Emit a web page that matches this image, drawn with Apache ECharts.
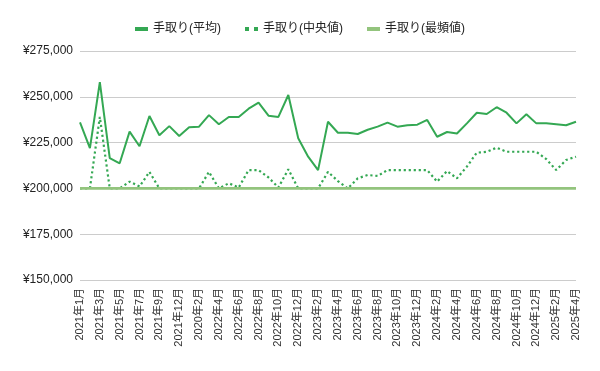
<!DOCTYPE html>
<html><head><meta charset="utf-8">
<script src="https://cdn.jsdelivr.net/npm/echarts@6/dist/echarts.min.js"></script>
<style>html,body{margin:0;padding:0;background:#fff}#c{width:600px;height:371px}</style>
</head><body><div id="c"></div>
<script>
const categories = ["2021年1月","2021年2月","2021年3月","2021年4月","2021年5月","2021年6月","2021年7月","2021年8月","2021年9月","2021年10月","2021年12月","2022年1月","2020年2月","2022年3月","2022年4月","2022年5月","2022年6月","2022年7月","2022年8月","2022年9月","2022年10月","2022年11月","2022年12月","2023年1月","2023年2月","2023年3月","2023年4月","2023年5月","2023年6月","2023年7月","2023年8月","2023年9月","2023年10月","2023年11月","2023年12月","2024年1月","2024年2月","2024年3月","2024年4月","2024年5月","2024年6月","2024年7月","2024年8月","2024年9月","2024年10月","2024年11月","2024年12月","2025年1月","2025年2月","2025年3月","2025年4月"];
const avgValues = [236000,222000,258000,216500,213700,231000,223000,239500,229000,234000,228600,233400,233700,240000,235000,239000,239000,243500,246800,239700,239000,251000,227400,217300,210000,236400,230400,230400,229700,232000,233700,235900,233700,234500,234800,237400,228200,230800,230000,235500,241300,240600,244300,241300,235500,240500,235500,235500,235000,234500,236400];
const medianValues = [200000,200000,239000,200000,200000,203700,201000,209000,200000,200000,200000,200000,200000,209000,200000,202800,200500,210000,210000,206000,200500,210400,200000,200000,200000,209000,204000,200000,205500,207300,206800,210000,210000,210000,210000,210000,203700,209500,205500,211900,219500,220000,222200,220000,220000,220000,220000,216000,210000,215500,217300];
const modeValues = categories.map(() => 200000);
const yTicks = { min: 150000, max: 275000, interval: 25000 };
const seriesNames = ["手取り(平均)","手取り(中央値)","手取り(最頻値)"];

const chart = echarts.init(document.getElementById('c'), null, {renderer:'canvas'});
const font = '"Liberation Sans", Arial, "Noto Sans CJK JP", sans-serif';
chart.setOption({
  animation:false,
  textStyle:{fontFamily:font},
  legend:{
    top:18, left:'center', itemWidth:13, itemHeight:4, itemGap:24,
    textStyle:{fontSize:12,color:'#222',fontFamily:font},
    data:[
      {name:seriesNames[0],icon:'rect'},
      {name:seriesNames[1],icon:'path://M0,0h4v4h-4zM9,0h4v4h-4z'},
      {name:seriesNames[2],icon:'rect'}
    ]
  },
  grid:{left:80,right:24,top:51,bottom:91,containLabel:false},
  xAxis:{
    type:'category', data:categories, boundaryGap:false,
    axisLine:{show:false}, axisTick:{show:false},
    axisLabel:{rotate:90, interval:1, fontSize:11, color:'#333', margin:8, fontFamily:font}
  },
  yAxis:{
    type:'value', min:yTicks.min, max:yTicks.max, interval:yTicks.interval,
    axisLine:{show:false}, axisTick:{show:false},
    splitLine:{lineStyle:{color:'#cccccc',width:1}},
    axisLabel:{fontSize:12,color:'#222',margin:7,fontFamily:font,
      formatter:v=>'¥'+v.toLocaleString('en-US')}
  },
  series:[
    {name:seriesNames[0],type:'line',data:avgValues,symbol:'none',
     lineStyle:{color:'#34a853',width:2},itemStyle:{color:'#34a853'}},
    {name:seriesNames[1],type:'line',data:medianValues,symbol:'none',
     lineStyle:{color:'#34a853',width:2.2,type:[2.2,2.8]},itemStyle:{color:'#34a853'}},
    {name:seriesNames[2],type:'line',data:modeValues,symbol:'none',
     lineStyle:{color:'#93c47d',width:2.6},itemStyle:{color:'#93c47d'}}
  ]
});
</script></body></html>
